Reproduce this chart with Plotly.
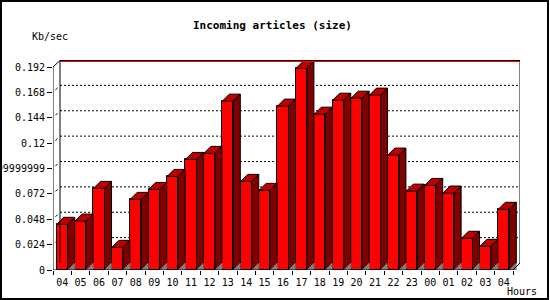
import plotly.graph_objects as go

# ---- data ----
hour_labels = ["04", "05", "06", "07", "08", "09", "10", "11", "12", "13", "14", "15",
               "16", "17", "18", "19", "20", "21", "22", "23", "00", "01", "02", "03", "04"]
kb_per_sec = [0.0432, 0.0463, 0.0772, 0.0214, 0.0668, 0.0762, 0.0885, 0.1046, 0.1103,
              0.1597, 0.0838, 0.0753, 0.1550, 0.1906, 0.1474, 0.1606, 0.1625, 0.1654,
              0.1087, 0.0746, 0.0800, 0.0728, 0.0300, 0.0224, 0.0574]
y_tick_vals = [0, 0.024, 0.048, 0.072, 0.096, 0.12, 0.144, 0.168, 0.192]
y_tick_text = ["0", "0.024", "0.048", "0.072", "0.09999999", "0.12", "0.144", "0.168", "0.192"]
title_text = "Incoming articles (size)"
y_label = "Kb/sec"
x_label = "Hours"

# ---- geometry / style ----
W, H = 550, 300
ML, MR, MT, MB = 53, 30, 60, 30
PW, PH = W - ML - MR, H - MT - MB
n = len(kb_per_sec)
px_per_cat = 460 / n
XR = [-0.5, -0.5 + PW / px_per_cat]
px_per_unit = 203 / 0.192
YR = [0, PH / px_per_unit]
DX = 7 / px_per_cat          # depth in x data units
DY = 7 / px_per_unit         # depth in y data units
BW = 0.6
FONT = "DejaVu Sans Mono"

FRONT, TOP, SIDE, SHADOW = "#ff0000", "#c00000", "#800000", "#808080"

xs = list(range(n))

fig = go.Figure()

# front faces
fig.add_trace(go.Bar(x=xs, y=kb_per_sec, width=BW, marker=dict(color=FRONT, line=dict(color="black", width=1)),
                     hoverinfo="skip", showlegend=False))

# top, side and floor shadow faces built from the same data
for x, v in zip(xs, kb_per_sec):
    l, r = x - BW / 2, x + BW / 2
    fig.add_trace(go.Scatter(x=[l, l + DX, r + DX, r, l], y=[v, v + DY, v + DY, v, v], mode="lines",
                             fill="toself", fillcolor=TOP, line=dict(color="black", width=1),
                             hoverinfo="skip", showlegend=False))
    fig.add_trace(go.Scatter(x=[r, r, r + DX, r + DX, r], y=[0, v, v + DY, DY, 0], mode="lines",
                             fill="toself", fillcolor=SIDE, line=dict(color="black", width=1),
                             hoverinfo="skip", showlegend=False))
    fig.add_trace(go.Scatter(x=[r, r + DX, r + DX, r], y=[0, DY, 0, 0], mode="lines",
                             fill="toself", fillcolor=SHADOW, line=dict(color=SHADOW, width=0.5),
                             hoverinfo="skip", showlegend=False))

shapes = []
# back-wall gridlines (dotted) and small connectors
for v in y_tick_vals[1:-1]:
    shapes.append(dict(type="line", xref="x", yref="y", x0=-0.5 + DX, x1=XR[1], y0=v + DY, y1=v + DY,
                       line=dict(color="black", width=1, dash="2px,2px"), layer="below"))
    shapes.append(dict(type="line", xref="x", yref="y", x0=-0.5 + DX * 0.35, x1=-0.5 + DX * 0.65,
                       y0=v + DY * 0.35, y1=v + DY * 0.65, line=dict(color="black", width=1), layer="below"))
# back wall frame
top_black = (H - MB - 60.5) / px_per_unit
top_red = (H - MB - 61.5) / px_per_unit
shapes += [
    dict(type="line", xref="x", yref="y", x0=-0.5 + DX, x1=-0.5 + DX, y0=DY, y1=top_black, line=dict(color="black", width=1)),
    dict(type="line", xref="x", yref="y", x0=XR[1], x1=XR[1], y0=DY, y1=top_black, line=dict(color="black", width=1)),
    dict(type="line", xref="x", yref="y", x0=XR[1] - DX, x1=XR[1], y0=0, y1=DY, line=dict(color="black", width=1)),
    dict(type="line", xref="x", yref="y", x0=-0.5 + DX, x1=XR[1], y0=top_black, y1=top_black, line=dict(color="black", width=1)),
    dict(type="line", xref="x", yref="y", x0=-0.5 + DX, x1=XR[1], y0=top_red, y1=top_red,
         line=dict(color="red", width=1)),
    dict(type="line", xref="x", yref="y", x0=-0.5, x1=-0.5 + DX, y0=y_tick_vals[-1], y1=top_black, line=dict(color="black", width=1)),
    # front axes
    dict(type="line", xref="x", yref="y", x0=-0.5, x1=-0.5, y0=0, y1=y_tick_vals[-1], line=dict(color="black", width=1)),
    dict(type="line", xref="x", yref="y", x0=-0.5, x1=XR[1] - DX, y0=0, y1=0, line=dict(color="black", width=1)),
]
# outer border (pixel -> paper)
def pxx(p):
    return (p - ML) / PW
def pxy(p):
    return (H - MB - p) / PH
shapes.append(dict(type="rect", xref="paper", yref="paper", x0=pxx(1), x1=pxx(548), y0=pxy(1), y1=pxy(299),
                   line=dict(color="black", width=2)))

annotations = [
    dict(text="<b>" + title_text + "</b>", xref="paper", yref="paper", x=pxx(272), y=pxy(26),
         xanchor="center", yanchor="middle", showarrow=False, font=dict(family=FONT, size=11, color="black")),
    dict(text=y_label, xref="paper", yref="paper", x=pxx(30), y=pxy(37),
         xanchor="left", yanchor="middle", showarrow=False, font=dict(family=FONT, size=10, color="black")),
    dict(text=x_label, xref="paper", yref="paper", x=pxx(505), y=pxy(291),
         xanchor="left", yanchor="middle", showarrow=False, font=dict(family=FONT, size=10, color="black")),
]

fig.update_layout(
    width=W, height=H, margin=dict(l=ML, r=MR, t=MT, b=MB, pad=0),
    paper_bgcolor="white", plot_bgcolor="white", showlegend=False,
    shapes=shapes, annotations=annotations,
    xaxis=dict(range=XR, tickmode="array", tickvals=xs, ticktext=hour_labels, ticks="", showgrid=False,
               zeroline=False, showline=False, automargin=False, fixedrange=True, ticklabelstandoff=5,
               tickfont=dict(family=FONT, size=10, color="black"),
               minor=dict(tick0=-0.5, dtick=1, ticks="outside", ticklen=4, tickcolor="black", showgrid=False)),
    yaxis=dict(range=YR, tickmode="array", tickvals=y_tick_vals, ticktext=y_tick_text, ticks="outside",
               ticklen=5, tickcolor="black", showgrid=False, zeroline=False, showline=False, automargin=False,
               fixedrange=True, tickfont=dict(family=FONT, size=10, color="black")),
    bargap=0,
)

fig.write_html("out.html", config={"displayModeBar": False})
